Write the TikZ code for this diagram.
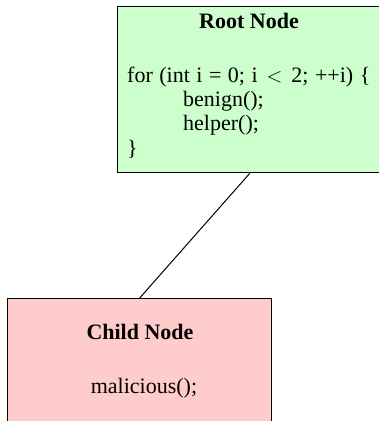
\documentclass[tikz,border=0pt]{standalone}
\usepackage{fontspec}
\setmainfont{Liberation Serif}
\begin{document}
\begin{tikzpicture}[x=1pt,y=1pt,
  box/.style={draw=black,line width=1.4pt,inner sep=0pt,anchor=north west},
  txt/.style={inner sep=0pt,font=\fontsize{22}{24}\selectfont},
  btxt/.style={inner sep=0pt,font=\fontsize{22}{24}\selectfont\bfseries},
  edge/.style={draw=black,line width=1pt}]
\useasboundingbox (0,0) rectangle (379,-421);
\begin{scope}
\clip (0,0) rectangle (379,-421);
\node[box,fill={rgb,255:red,204;green,255;blue,204},minimum width=264pt,minimum height=166pt] (root) at (117,-6) {};
\node[box,fill={rgb,255:red,255;green,204;blue,204},minimum width=264pt,minimum height=140pt] (child) at (7,-298) {};
\end{scope}
\draw[edge] (root.south) -- (child.north);
\node[btxt,anchor=base] (rt) at (249,-28) {Root Node};
\node[txt,anchor=base west] (l1) at (127,-82) {\spaceskip=6.5pt for (int i = 0; i\hspace{9pt}$<$\hspace{9pt}2; ++i) \{};
\node[txt,anchor=base west] (l2) at (183,-106) {benign();};
\node[txt,anchor=base west] (l3) at (183,-130) {helper();};
\node[txt,anchor=base west] (l4) at (127,-155) {\}};
\node[btxt,anchor=base] (ct) at (140,-339) {Child Node};
\node[txt,anchor=base] (cm) at (144,-393) {malicious();};
\end{tikzpicture}
\end{document}
